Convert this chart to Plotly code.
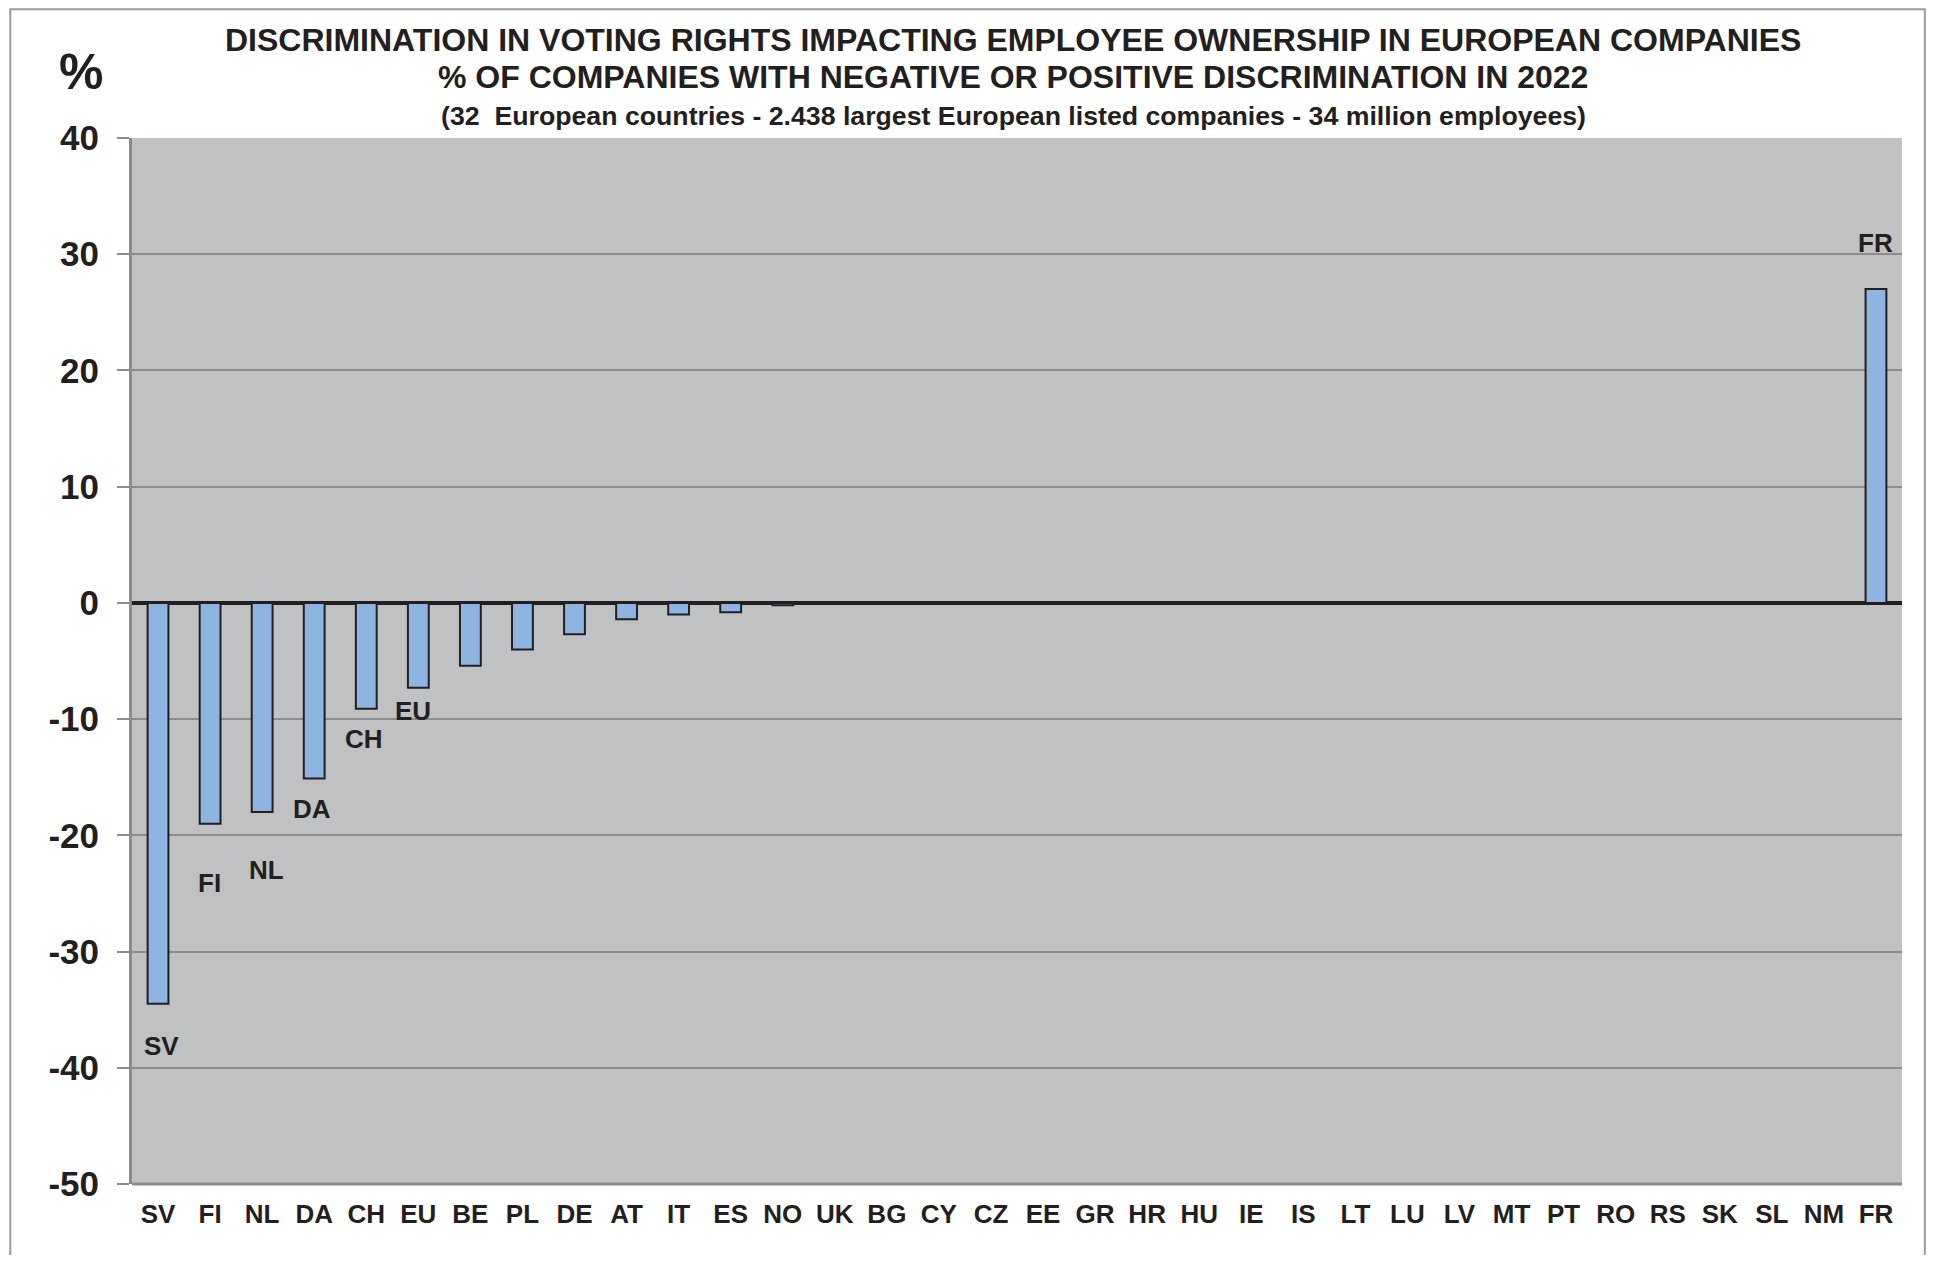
import plotly.graph_objects as go

countries = ["SV", "FI", "NL", "DA", "CH", "EU", "BE", "PL", "DE", "AT", "IT", "ES", "NO",
             "UK", "BG", "CY", "CZ", "EE", "GR", "HR", "HU", "IE", "IS", "LT", "LU", "LV",
             "MT", "PT", "RO", "RS", "SK", "SL", "NM", "FR"]
values = [-34.5, -19.0, -18.0, -15.1, -9.1, -7.3, -5.4, -4.0, -2.7, -1.4, -1.0, -0.8, -0.2,
          0, 0, 0, 0, 0, 0, 0, 0, 0, 0, 0, 0, 0,
          0, 0, 0, 0, 0, 0, 0, 27.0]
labelled = ["SV", "FI", "NL", "DA", "CH", "EU", "FR"]

title1 = "DISCRIMINATION IN VOTING RIGHTS IMPACTING EMPLOYEE OWNERSHIP IN EUROPEAN COMPANIES"
title2 = "% OF COMPANIES WITH NEGATIVE OR POSITIVE DISCRIMINATION IN 2022"
title3 = "(32  European countries - 2.438 largest European listed companies - 34 million employees)"
y_ticks = [40, 30, 20, 10, 0, -10, -20, -30, -40, -50]

# label placement style (offset in axis units from bar end, pixel x shift)
label_offset = {"SV": -3.6, "FI": -5.1, "NL": -5.0, "DA": -2.6, "CH": -2.6, "EU": -2.0, "FR": 4.0}
label_xshift = {"SV": 3, "FI": -1, "NL": 4, "DA": -2, "CH": -2, "EU": -5, "FR": 0}

FONT = "Liberation Sans, Arial, sans-serif"
TXT = "#231f20"

# page body has an 8px default margin; work in page pixels and convert
OFF = 8
L, R, T, B = 131.7, 1901.7, 138.3, 1184.0
W, H = 1934 - 2 * OFF, 1263 - 2 * OFF
pw, ph = R - L, B - T

def px(x):
    return (x - L) / pw

def py(y):
    return (B - y) / ph

fig = go.Figure()
fig.add_trace(go.Bar(
    x=countries, y=values, width=0.4,
    marker=dict(color="#8eb4e2", line=dict(color="#231f20", width=2)),
    showlegend=False,
))

annotations = []
for c in labelled:
    v = values[countries.index(c)]
    annotations.append(dict(
        x=c, y=v + label_offset[c], xref="x", yref="y", text="<b>%s</b>" % c,
        showarrow=False, xshift=label_xshift[c],
        font=dict(family=FONT, size=26, color=TXT),
    ))

annotations += [
    dict(x=px(1012.7), y=py(40), xref="paper", yref="paper", text="<b>%s</b>" % title1,
         showarrow=False, font=dict(family=FONT, size=32, color=TXT), xanchor="center", yanchor="middle"),
    dict(x=px(1012.7), y=py(77), xref="paper", yref="paper", text="<b>%s</b>" % title2,
         showarrow=False, font=dict(family=FONT, size=32, color=TXT), xanchor="center", yanchor="middle"),
    dict(x=px(1012.7), y=py(116), xref="paper", yref="paper", text="<b>%s</b>" % title3,
         showarrow=False, font=dict(family=FONT, size=26.7, color=TXT), xanchor="center", yanchor="middle"),
    dict(x=px(81), y=py(72), xref="paper", yref="paper", text="<b>%</b>",
         showarrow=False, font=dict(family=FONT, size=50, color=TXT), xanchor="center", yanchor="middle"),
]

shapes = [
    dict(type="rect", xref="paper", yref="paper", x0=px(10), x1=px(1924.5), y0=py(1275), y1=py(9.5),
         line=dict(color="#9a9a9a", width=2), fillcolor="rgba(0,0,0,0)", layer="below"),
    dict(type="line", xref="paper", yref="paper", x0=0, x1=1, y0=0, y1=0,
         line=dict(color="#8c8c8c", width=3)),
]

fig.update_layout(
    width=W, height=H,
    margin=dict(l=L - OFF, r=(W + OFF) - R, t=T - OFF, b=(H + OFF) - B, pad=0),
    paper_bgcolor="white",
    plot_bgcolor="#c0c1c3",
    annotations=annotations,
    shapes=shapes,
    font=dict(family=FONT, color=TXT),
)
fig.update_xaxes(
    type="category", categoryorder="array", categoryarray=countries,
    showgrid=False, ticks="", showline=False,
    tickfont=dict(family=FONT, size=26, color=TXT),
    ticklabelstandoff=12,
    tickprefix="<b>", ticksuffix="</b>",
)
fig.update_yaxes(
    range=[-50, 40], tickvals=y_ticks, ticktext=["<b>%d</b>" % t for t in y_ticks],
    showgrid=True, gridcolor="#8c8c8c", gridwidth=2,
    zeroline=True, zerolinecolor="#231f20", zerolinewidth=4,
    showline=True, linecolor="#8c8c8c", linewidth=3, mirror=False,
    ticks="outside", ticklen=12, tickcolor="#8c8c8c", tickwidth=2,
    tickfont=dict(family=FONT, size=35, color=TXT),
    ticklabelstandoff=11,
)

fig.write_html("out.html")
